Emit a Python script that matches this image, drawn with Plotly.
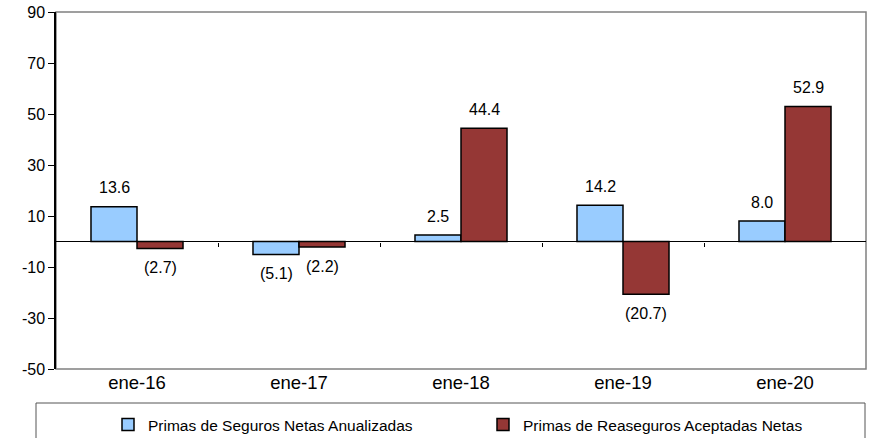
import plotly.graph_objects as go

# data
periods = ["ene-16", "ene-17", "ene-18", "ene-19", "ene-20"]
seguros = [13.6, -5.1, 2.5, 14.2, 8.0]
reaseguros = [-2.7, -2.2, 44.4, -20.7, 52.9]
y_ticks = [-50, -30, -10, 10, 30, 50, 70, 90]

name_seg = "Primas de Seguros Netas Anualizadas"
name_rea = "Primas de Reaseguros Aceptadas Netas"

blue = "#99CCFF"
red = "#953735"
font = "Liberation Sans, Arial, sans-serif"


def fmt(v):
    # negatives shown in parentheses
    return f"({abs(v):.1f})" if v < 0 else f"{v:.1f}"


fig = go.Figure()
fig.add_trace(go.Bar(
    x=periods, y=seguros, name=name_seg,
    marker=dict(color=blue, line=dict(color="black", width=1.5)),
))
fig.add_trace(go.Bar(
    x=periods, y=reaseguros, name=name_rea,
    marker=dict(color=red, line=dict(color="black", width=1.5)),
))

# small tick marks on the zero line between categories
fig.add_trace(go.Scatter(
    x=[None], y=[None], xaxis="x2", yaxis="y", showlegend=False, hoverinfo="skip",
))

# value labels
annotations = []
for series, shift in ((seguros, -23), (reaseguros, 23)):
    for p, v in zip(periods, series):
        annotations.append(dict(
            x=p, y=v, xref="x", yref="y", text=fmt(v), showarrow=False,
            xshift=shift, yshift=19 if v >= 0 else -19,
            font=dict(family=font, size=16, color="black"),
        ))

fig.update_layout(
    width=872, height=438,
    margin=dict(l=56, r=6, t=12, b=69, autoexpand=False),
    plot_bgcolor="white", paper_bgcolor="white",
    barmode="group", bargap=0.432, bargroupgap=0,
    font=dict(family=font, size=15, color="black"),
    xaxis=dict(
        type="category", showline=False, ticks="", showgrid=False,
        tickfont=dict(size=18.5),
    ),
    xaxis2=dict(
        overlaying="x", anchor="free", position=50 / 140,
        range=[-0.5, len(periods) - 0.5],
        tickvals=[i + 0.5 for i in range(len(periods) - 1)],
        ticks="outside", ticklen=4, tickcolor="black", tickwidth=1,
        showticklabels=False, showline=False, showgrid=False, zeroline=False,
    ),
    yaxis=dict(
        range=[-50, 90], tickvals=y_ticks, ticktext=[str(t) for t in y_ticks],
        showgrid=False, ticklabeloverflow="allow",
        zeroline=True, zerolinecolor="black", zerolinewidth=1,
        showline=True, linecolor="black", linewidth=1.5,
        ticks="outside", ticklen=6, tickcolor="black",
        tickfont=dict(size=16),
    ),
    legend=dict(
        orientation="h", x=0.5 + 22 / 810, xanchor="center", y=-0.109, yanchor="top",
        entrywidth=330, itemwidth=30, font=dict(size=15.5),
        bgcolor="rgba(0,0,0,0)",
    ),
    shapes=[
        # gray plot border (top, right, bottom)
        dict(type="rect", xref="paper", yref="paper", x0=0, x1=1, y0=0, y1=1,
             line=dict(color="#808080", width=1.5), layer="below"),
        # legend box
        dict(type="rect", xref="paper", yref="paper",
             x0=-20 / 810, x1=809 / 810, y0=-34 / 357, y1=-80 / 357,
             line=dict(color="#555555", width=1)),
    ],
    annotations=annotations,
    showlegend=True,
)

# drop the default page margin so the figure fills the window exactly
fig.write_html(
    "out.html",
    config={"displayModeBar": False},
    post_script="document.body.style.margin='0';",
)
